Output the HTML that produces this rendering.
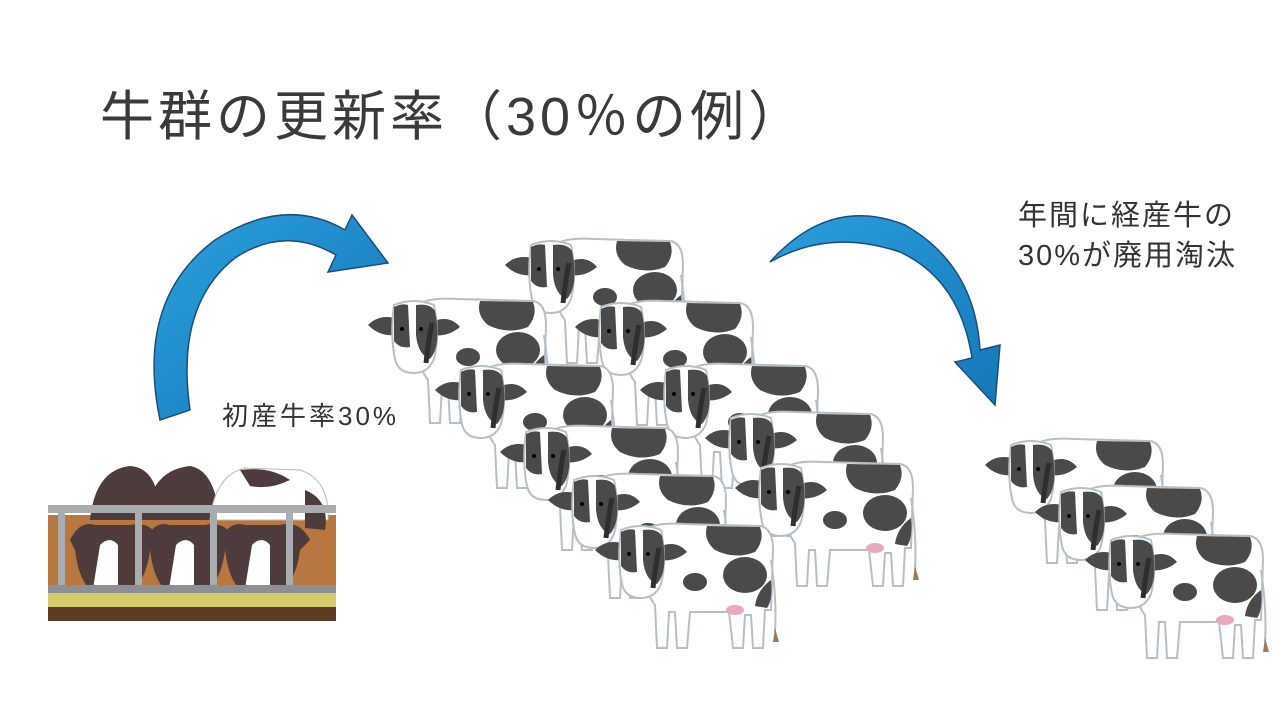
<!DOCTYPE html>
<html><head><meta charset="utf-8"><style>
body{margin:0;background:#fff;}
.t{position:absolute;font-family:"Liberation Sans","Noto Sans CJK JP",sans-serif;color:#222;white-space:nowrap;}
</style></head><body>
<div style="position:relative;width:1280px;height:720px;overflow:hidden;">
<svg width="1280" height="720" style="position:absolute;left:0;top:0">
<defs>
<linearGradient id="ag" x1="0" y1="0" x2="1" y2="1"><stop offset="0" stop-color="#2a9fdc"/><stop offset="1" stop-color="#1577b8"/></linearGradient>
<g id="cow">
 <path d="M50 10 Q60 2 90 4 L165 6 Q178 8 178 30 L176 90 L170 90 L168 128 L158 128 L156 95 L150 95 L148 128 L138 128 L134 92 L95 92 L92 128 L82 128 L80 92 L74 92 L72 128 L62 128 L60 85 Q48 70 50 40 Z" fill="#fff" stroke="#b7bfc6" stroke-width="2"/>
 <path d="M112 6 L165 7 Q170 20 160 32 Q140 40 120 30 Q108 20 112 6Z" fill="#4a4a4a"/>
 <ellipse cx="150" cy="55" rx="22" ry="18" fill="#4a4a4a"/>
 <ellipse cx="100" cy="62" rx="12" ry="9" fill="#4a4a4a"/>
 <path d="M176 60 Q178 80 172 88 L160 86 Q162 70 176 60Z" fill="#4a4a4a"/>
 <path d="M176 40 Q182 80 180 112" stroke="#b7bfc6" stroke-width="2" fill="none"/>
 <path d="M180 108 L184 122 L178 122Z" fill="#9a7a5a"/>
 <ellipse cx="140" cy="90" rx="9" ry="5" fill="#e8a8c0"/>
 <path d="M0 30 Q12 18 30 24 L28 40 Q12 42 0 30Z" fill="#4a4a4a"/>
 <path d="M66 26 Q82 20 92 32 Q80 42 66 40Z" fill="#4a4a4a"/>
 <path d="M26 10 Q46 2 66 10 Q72 40 66 64 Q60 78 46 78 Q30 78 27 64 Q22 40 26 10Z" fill="#fff" stroke="#b7bfc6" stroke-width="2"/>
 <path d="M26 12 Q34 8 40 10 L42 52 Q32 54 26 46Z" fill="#4a4a4a"/>
 <path d="M48 10 Q62 8 67 16 Q74 50 62 64 Q50 60 48 40Z" fill="#4a4a4a"/>
 <path d="M64 28 Q60 48 58 68" stroke="#2e2e2e" stroke-width="5" fill="none"/>
 <circle cx="34" cy="34" r="2" fill="#000"/><circle cx="53" cy="34" r="2" fill="#000"/>
</g>
</defs>
<rect x="48" y="515" width="288" height="85" fill="#b8773e"/>
<g fill="#4e3c3c">
<path d="M90 520 Q95 470 130 466 Q160 468 160 520Z"/><path d="M145 520 Q150 470 190 466 Q215 470 220 520Z"/>
<path d="M210 520 Q215 475 245 468 L300 470 Q330 480 328 520Z" fill="#fff" stroke="#bbb"/>
<path d="M240 470 Q270 466 290 480 Q270 490 250 486Z"/><path d="M305 490 Q330 500 325 530 L305 528Z"/>
</g>
<g>
<path d="M70 540 Q80 520 95 525 L130 525 Q150 520 160 540 L150 550 Q145 590 120 595 L100 595 Q80 590 75 550Z" fill="#4e3c3c"/>
<path d="M145 540 Q155 520 170 525 L205 525 Q225 520 235 540 L225 550 Q220 590 195 595 L175 595 Q155 590 150 550Z" fill="#4e3c3c"/>
<path d="M220 540 Q230 520 245 525 L280 525 Q300 520 310 540 L300 550 Q295 590 270 595 L250 595 Q230 590 225 550Z" fill="#4e3c3c"/>
<path d="M100 545 Q110 535 118 545 L118 595 L92 595Z" fill="#fff"/>
<path d="M176 545 Q186 535 194 545 L194 595 L168 595Z" fill="#fff"/>
<path d="M252 545 Q262 535 270 545 L270 595 L244 595Z" fill="#fff"/>
</g>
<rect x="48" y="505" width="288" height="8" fill="#a9adb0"/>
<g fill="#a9adb0"><rect x="58" y="512" width="7" height="80"/><rect x="135" y="512" width="7" height="80"/><rect x="210" y="512" width="7" height="80"/><rect x="286" y="512" width="7" height="80"/></g>
<rect x="48" y="585" width="288" height="8" fill="#8c9094"/>
<rect x="48" y="593" width="288" height="14" fill="#d4cb6a"/>
<rect x="48" y="607" width="288" height="14" fill="#5e3b22"/>
<use href="#cow" x="505" y="235"/>
<use href="#cow" x="368" y="295"/>
<use href="#cow" x="575" y="297"/>
<use href="#cow" x="435" y="360"/>
<use href="#cow" x="640" y="360"/>
<use href="#cow" x="500" y="422"/>
<use href="#cow" x="705" y="408"/>
<use href="#cow" x="735" y="458"/>
<use href="#cow" x="548" y="470"/>
<use href="#cow" x="595" y="520"/>
<use href="#cow" x="985" y="435"/>
<use href="#cow" x="1035" y="482"/>
<use href="#cow" x="1085" y="530"/>
<path d="M160 420 Q135 300 215 240 Q285 195 345 230 L352 215 L388 263 L328 272 L336 255 Q285 225 235 258 Q175 305 190 410 Z" fill="url(#ag)" stroke="#1a4f7a" stroke-width="1.5"/>
<path d="M770 262 Q830 195 905 225 Q975 265 980 350 L1000 345 L995 405 L955 362 L972 358 Q960 280 900 252 Q830 228 770 262Z" fill="url(#ag)" stroke="#1a4f7a" stroke-width="1.5"/>
</svg>
<div class="t" style="left:100px;top:72px;font-size:54px;letter-spacing:4px;color:#3a3a3a;">牛群の更新率（30％の例）</div>
<div class="t" style="left:222px;top:396px;font-size:26px;letter-spacing:3px;color:#333;">初産牛率30%</div>
<div class="t" style="left:1018px;top:196px;font-size:29px;line-height:40px;letter-spacing:2px;color:#333;">年間に経産牛の<br>30%が廃用淘汰</div>
</div>
</body></html>
